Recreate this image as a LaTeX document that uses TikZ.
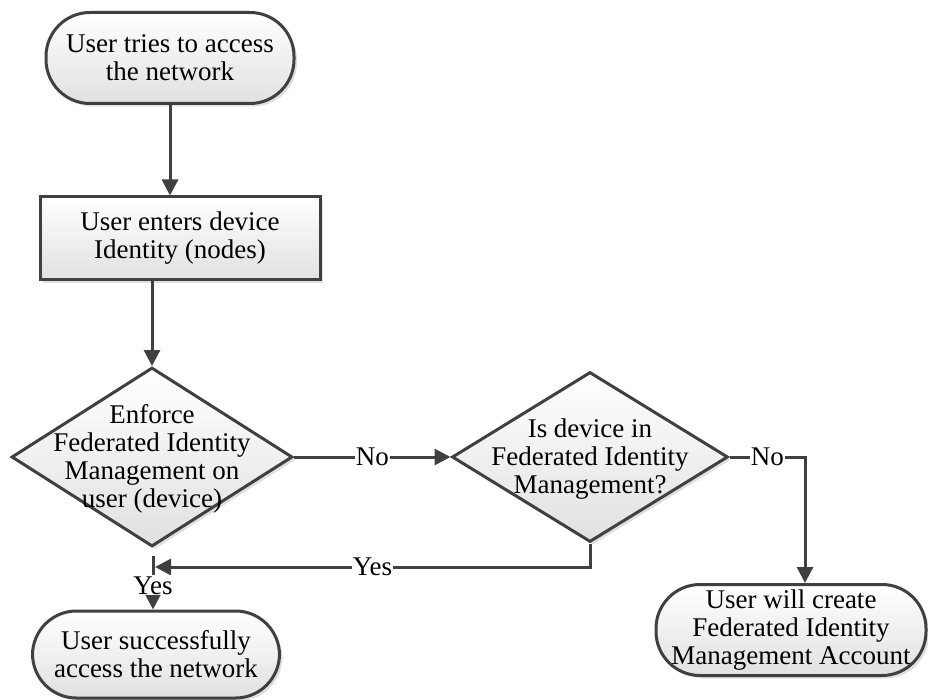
\documentclass[tikz,border=0pt]{standalone}
\usepackage{fontspec}
\setmainfont{Liberation Serif}
\usetikzlibrary{shapes.geometric,arrows.meta,shadows}
\definecolor{ln}{HTML}{404040}
\begin{document}
\begin{tikzpicture}[x=1pt,y=-1pt,
  font=\fontsize{27}{28}\selectfont,
  shapebase/.style={draw=ln, line width=3pt, top color=white, bottom color=black!12,
    drop shadow={shadow xshift=3pt,shadow yshift=-3pt,fill=black!25,opacity=0.5}},
  term/.style={shapebase, rectangle, rounded corners=44pt, minimum height=91pt, align=center, inner sep=0pt},
  procbox/.style={shapebase, rectangle, align=center, inner sep=0pt},
  decision/.style={shapebase, diamond, inner sep=0pt},
  lbl/.style={align=center, inner sep=0pt},
  conn/.style={draw=ln, line width=3pt, -{Triangle[length=16pt,width=16pt]}},
  lab/.style={fill=white, inner sep=1pt}
]
\useasboundingbox (0,0) rectangle (928,700);

% shapes
\node[term, minimum width=248pt] (t1) at (170,58) {User tries to access\\the network};
\node[procbox, minimum width=280pt, minimum height=83pt] (box) at (180,238.5) {User enters device\\Identity (nodes)};
\node[decision, minimum width=281pt, minimum height=179pt] (d1) at (152,457) {};
\node[lbl] (d1t) at (152,459) {Enforce\\Federated Identity\\Management on\\user (device)};
\node[decision, minimum width=276pt, minimum height=170pt] (d2) at (590,457) {};
\node[lbl] (d2t) at (590,459) {Is device in\\Federated Identity\\Management?};
\node[term, minimum width=247pt, minimum height=87pt] (t2) at (156,654.5) {User successfully\\access the network};
\node[term, minimum width=270pt] (t3) at (791,630) {User will create\\Federated Identity\\Management Account};

% junction points
\coordinate (j) at (153,556);
\coordinate (k) at (155,567);

% connectors
\draw[conn] (t1.south) -- (t1.south |- box.north);
\draw[conn] (d1.north |- box.south) -- (d1.north);
\draw[conn] (d1.east) -- node[lab] {No} (d2.west);
\draw[conn] (d2.east) -| node[lab, pos=0.25] {No} (t3.north -| 805,0);
\draw[conn] (d2.south) |- node[lab, pos=0.75] {Yes} (k);
\draw[conn] (j) -- node[lab, pos=0.55] {Yes} (j |- t2.north);
\end{tikzpicture}
\end{document}
